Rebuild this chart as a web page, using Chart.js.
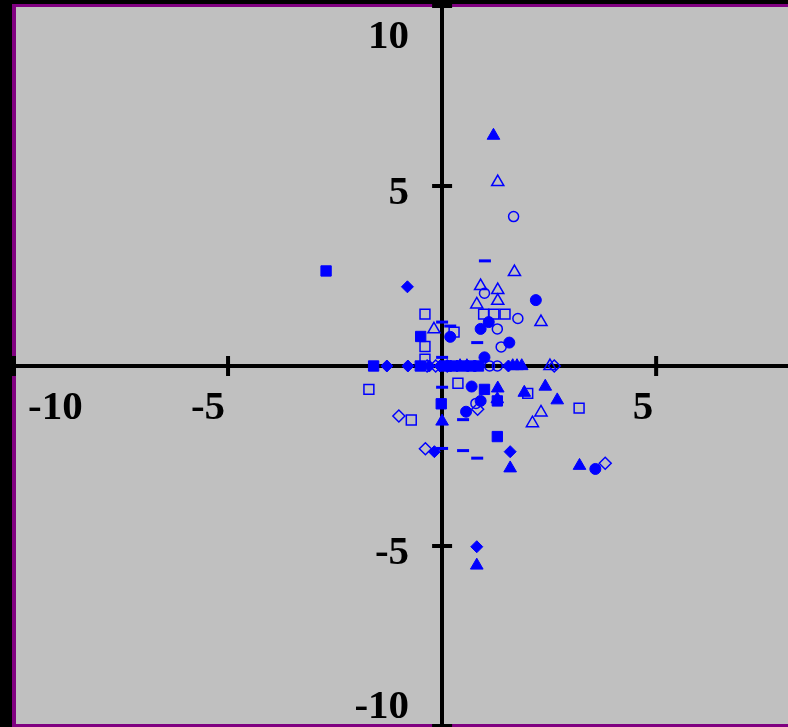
<!DOCTYPE html>
<html>
<head>
<meta charset="utf-8">
<script src="https://cdn.jsdelivr.net/npm/chart.js@4.4.1/dist/chart.umd.min.js"></script>
<style>
html,body{margin:0;padding:0;background:#000;}
canvas{display:block;}
</style>
</head>
<body>
<canvas id="c" width="788" height="727"></canvas>
<script>
// ---- data (x, y pairs per marker series) ----
const filledTriangle = [[1.2,6.40],[1.30,-0.62],[1.92,-0.74],[2.41,-0.57],[2.69,-0.95],[0,-1.54],[1.59,-2.84],[3.21,-2.77],[0.81,-5.54],[0.42,0],[0.58,0],[1.65,0],[1.75,0],[1.86,0],[1.29,-0.92]];
const openTriangle = [[1.30,5.11],[1.69,2.61],[0.90,2.22],[1.30,2.11],[0.81,1.71],[1.30,1.81],[2.31,1.22],[-0.19,1.02],[2.31,-1.29],[2.11,-1.59],[2.52,0]];
const filledCircle = [[2.19,1.83],[1.09,1.22],[0.19,0.81],[0.90,1.03],[1.57,0.65],[0.99,0.24],[0.69,-0.57],[0.90,-0.97],[0.56,-1.27],[3.58,-2.86]];
const openCircle = [[1.67,4.15],[0.99,2.02],[1.77,1.32],[1.29,1.03],[1.38,0.53],[0.79,-1.04],[1.11,0],[1.29,0]];
const filledSquare = [[-2.71,2.64],[-0.50,0.82],[0.99,-0.65],[1.29,-0.97],[-0.02,-1.05],[1.29,-1.96],[-1.60,0],[-0.51,0],[0.05,0],[0.25,0],[0.45,0],[0.68,0],[0.85,0]];
const openSquare = [[-0.40,1.44],[0.97,1.44],[1.21,1.44],[1.47,1.44],[0.28,0.94],[-0.40,0.54],[-0.40,0.19],[-1.71,-0.65],[0.37,-0.48],[2.0,-0.76],[3.20,-1.17],[-0.72,-1.5]];
const filledDiamond = [[-0.81,2.20],[0.81,-5.02],[-0.18,-2.38],[1.59,-2.38],[-1.29,0],[-0.80,0],[-0.30,0],[-0.05,0],[0.20,0],[0.35,0],[0.60,0],[0.76,0],[1.55,0]];
const openDiamond = [[0.83,-1.20],[-1.01,-1.39],[-0.39,-2.30],[3.81,-2.70],[2.62,0],[-0.35,0],[-0.15,0],[0.12,0]];
const dashMarks = [[1.0,2.92],[0,1.22],[0.19,1.11],[0.82,0.65],[0,0.24],[0,-0.59],[0.49,-1.49],[0,-2.29],[0.49,-2.35],[0.82,-2.56]];

const xTicks = [-10, -5, 5, 10];
const yTicks = [-10, -5, 5, 10];
const xTickLabels = ['-10', '-5', '5', '10'];
const yTickLabels = ['-10', '-5', '5', '10'];
const xMin = -10, xMax = 8.08, yMin = -10, yMax = 10;

const BLUE = '#0000FF';
const toPts = a => a.map(p => ({x: p[0], y: p[1]}));
function ds(data, style, r, filled, bw) {
  return {
    data: toPts(data),
    pointStyle: style,
    pointRadius: r,
    pointHoverRadius: r,
    backgroundColor: filled ? BLUE : 'rgba(0,0,0,0)',
    borderColor: BLUE,
    borderWidth: bw,
    showLine: false
  };
}

const frame = {
  id: 'frame',
  beforeDraw(chart) {
    const ctx = chart.ctx;
    const W = chart.width, H = chart.height;
    ctx.save();
    ctx.fillStyle = '#000000';
    ctx.fillRect(0, 0, W, H);
    ctx.fillStyle = '#800080';
    ctx.fillRect(12, 4, W - 12, H - 4);
    ctx.fillStyle = '#C0C0C0';
    ctx.fillRect(16, 7, W - 16, H - 10);
    ctx.restore();
  },
  beforeDatasetsDraw(chart) {
    const ctx = chart.ctx;
    const xs = chart.scales.x, ys = chart.scales.y;
    const a = chart.chartArea;
    const ax = xs.getPixelForValue(0);
    const ay = ys.getPixelForValue(0);
    ctx.save();
    ctx.strokeStyle = '#000';
    ctx.lineWidth = 4;
    ctx.beginPath();
    xTicks.forEach(v => {
      const p = xs.getPixelForValue(v);
      ctx.moveTo(p, ay - 10); ctx.lineTo(p, ay + 10);
    });
    yTicks.forEach(v => {
      const p = ys.getPixelForValue(v);
      ctx.moveTo(ax - 10, p); ctx.lineTo(ax + 10, p);
    });
    ctx.stroke();
    ctx.fillStyle = '#000';
    ctx.font = 'bold 41px "Liberation Serif", "Times New Roman", serif';
    ctx.textBaseline = 'alphabetic';
    ctx.textAlign = 'left';
    xTicks.forEach((v, i) => {
      const t = xTickLabels[i];
      const w = ctx.measureText(t).width;
      const p = xs.getPixelForValue(v);
      let left = Math.max(p - 3 - w, a.left + 14);
      ctx.fillText(t, left, ay + 53);
    });
    ctx.textAlign = 'right';
    yTicks.forEach((v, i) => {
      const t = yTickLabels[i];
      const p = ys.getPixelForValue(v);
      const base = Math.min(Math.max(p + 18, a.top + 42), a.bottom - 8);
      ctx.fillText(t, ax - 33, base);
    });
    ctx.restore();
  }
};

new Chart(document.getElementById('c'), {
  type: 'scatter',
  data: {
    datasets: [
      ds(openSquare, 'rect', 7, false, 1.5),
      ds(openCircle, 'circle', 5, false, 1.5),
      ds(openTriangle, 'triangle', 7, false, 1.5),
      ds(openDiamond, 'rectRot', 6, false, 1.5),
      ds(dashMarks, 'line', 6, false, 3),
      ds(filledSquare, 'rect', 7.3, true, 1),
      ds(filledCircle, 'circle', 5.5, true, 1),
      ds(filledTriangle, 'triangle', 7.3, true, 1),
      ds(filledDiamond, 'rectRot', 6, true, 1)
    ]
  },
  options: {
    responsive: false,
    animation: false,
    devicePixelRatio: 1,
    layout: { autoPadding: false, padding: { left: 14, top: 6, right: 0, bottom: 1 } },
    plugins: { legend: { display: false }, tooltip: { enabled: false } },
    scales: {
      x: {
        type: 'linear', min: xMin, max: xMax,
        position: { y: 0 },
        grid: { display: false, drawTicks: false },
        ticks: { display: false },
        border: { display: true, color: '#000', width: 4 },
        afterFit: s => { s.height = 0; }
      },
      y: {
        type: 'linear', min: yMin, max: yMax,
        position: { x: 0 },
        grid: { display: false, drawTicks: false },
        ticks: { display: false },
        border: { display: true, color: '#000', width: 4 },
        afterFit: s => { s.width = 0; }
      }
    }
  },
  plugins: [frame]
});
</script>
</body>
</html>
